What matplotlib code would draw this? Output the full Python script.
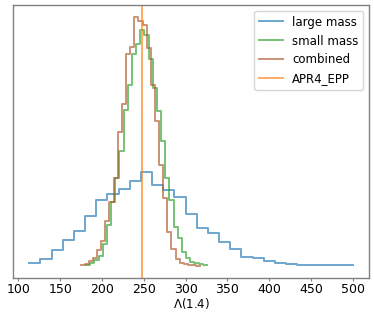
import numpy as np
import matplotlib
matplotlib.use("Agg")
import matplotlib.pyplot as plt

# histogram heights (arbitrary density units)
# large mass: 29 bins from 113 to 500
large_start, large_width = 113.0, 13.345
large_mass = [0.37, 0.83, 1.70, 2.70, 3.63, 5.10, 6.67, 7.25, 7.83, 8.63,
              9.47, 8.20, 7.73, 7.00, 5.25, 3.90, 3.37, 2.47, 1.77, 1.00,
              0.85, 0.60, 0.40, 0.27, 0.23, 0.20, 0.20, 0.17, 0.17]

# small mass: 29 bins starting at ~181
small_start, small_width = 180.9, 4.98
small_mass = [0.23, 0.40, 0.67, 1.13, 2.27, 4.20, 6.53, 8.87, 11.53, 15.70,
              18.20, 21.27, 22.27, 23.70, 23.13, 20.77, 17.87, 15.53, 12.60, 8.93,
              6.70, 4.03, 2.87, 1.53, 0.87, 0.53, 0.37, 0.27, 0.20]

# combined: 29 bins starting at ~174
comb_start, comb_width = 174.3, 4.94
combined = [0.20, 0.33, 0.60, 0.93, 1.70, 2.60, 4.60, 6.53, 8.87, 13.43,
            16.27, 21.27, 21.93, 24.93, 24.60, 24.13, 21.87, 18.20, 14.53, 10.20,
            6.93, 3.53, 1.80, 0.80, 0.43, 0.27, 0.20, 0.17, 0.13]

apr4_epp = 247.5


def edges(start, width, n):
    return start + width * np.arange(n + 1)


def step_line(ax, start, width, vals, color, label):
    e = edges(start, width, len(vals))
    v = list(vals) + [vals[-1]]
    ax.plot(e, v, drawstyle="steps-post", color=color, lw=1.4, alpha=0.65, label=label)


fig = plt.figure(figsize=(3.74, 3.12), dpi=100)
ax = fig.add_axes([0.035, 0.109, 0.952, 0.875])

step_line(ax, large_start, large_width, large_mass, "tab:blue", "large mass")
step_line(ax, small_start, small_width, small_mass, "tab:green", "small mass")
step_line(ax, comb_start, comb_width, combined, "#b0582a", "combined")
ax.axvline(apr4_epp, color="tab:orange", lw=1.3, alpha=0.7, label="APR4_EPP")

ax.set_xticks([100, 150, 200, 250, 300, 350, 400, 450, 500])
ax.set_yticks([])
ax.tick_params(axis="x", labelsize=9, color="#808080", length=2.5, pad=1)
ax.set_xlabel(r"$\Lambda$(1.4)", fontsize=8.5, labelpad=0)
for s in ax.spines.values():
    s.set_color("#808080")
    s.set_linewidth(1.0)

ax.legend(loc="upper right", fontsize=8.5)

fig.savefig("out.png", dpi=100)
